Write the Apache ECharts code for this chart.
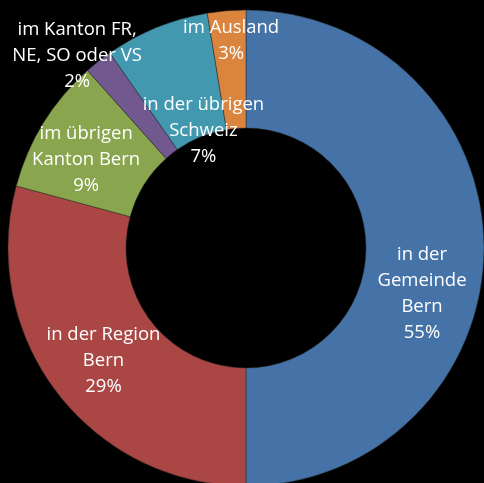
<!DOCTYPE html>
<html>
<head>
<meta charset="utf-8">
<script src="https://cdn.jsdelivr.net/npm/echarts@6/dist/echarts.min.js"></script>
<style>
html,body{margin:0;padding:0;background:#000;}
#chart{width:484px;height:483px;}
</style>
</head>
<body>
<div id="chart"></div>
<script>
// Categories (label text as shown)
var categories = [
  'in der\nGemeinde\nBern',
  'in der Region\nBern',
  'im übrigen\nKanton Bern',
  'im Kanton FR,\nNE, SO oder VS',
  'in der übrigen\nSchweiz',
  'im Ausland'
];
// Slice shares (percent of circle)
var sliceShares = [50, 29.2, 9.2, 1.9, 7.1, 2.6];
// Percent labels printed on the chart
var percentLabels = ['55%', '29%', '9%', '2%', '7%', '3%'];

var colors = ['#4572A7', '#AA4643', '#89A54E', '#71588F', '#4198AF', '#DB843D'];
// label nudges (dx, dy) per slice, styling only
var labelNudge = [[-6, 46], [2, 2], [-5, 7], [-56, -50], [26, 51], [0, -26]];

var data = categories.map(function (c, i) {
  return { name: c, value: sliceShares[i], itemStyle: { color: colors[i] } };
});

var chart = echarts.init(document.getElementById('chart'), null, { renderer: 'canvas' });
chart.setOption({
  backgroundColor: '#000',
  animation: false,
  series: [{
    type: 'pie',
    center: [246, 248],
    radius: [120, 238],
    startAngle: 90,
    clockwise: true,
    avoidLabelOverlap: false,
    itemStyle: { borderWidth: 0.6, borderColor: 'rgba(40,40,40,0.8)' },
    label: {
      show: true,
      position: 'inside',
      color: '#fff',
      fontFamily: '"Open Sans", "Noto Sans", sans-serif',
      fontSize: 18.5,
      lineHeight: 26,
      align: 'center',
      formatter: function (p) {
        return p.name + '\n' + percentLabels[p.dataIndex];
      }
    },
    labelLine: { show: false },
    labelLayout: function (p) {
      var n = labelNudge[p.dataIndex];
      return { dx: n[0], dy: n[1] };
    },
    emphasis: { disabled: true },
    data: data
  }]
});
</script>
</body>
</html>
